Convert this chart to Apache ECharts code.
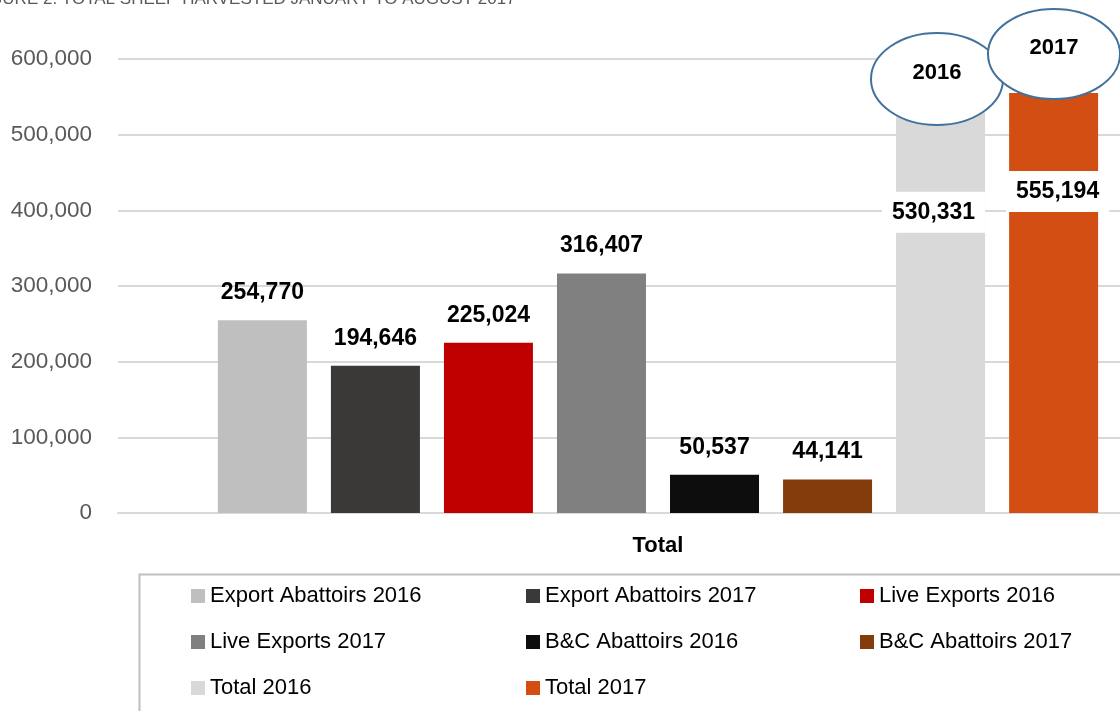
<!DOCTYPE html>
<html>
<head>
<meta charset="utf-8">
<script src="https://cdn.jsdelivr.net/npm/echarts@6/dist/echarts.min.js"></script>
<style>
html,body{margin:0;padding:0;background:#fff;}
#chart{width:1120px;height:711px;}
</style>
</head>
<body>
<div id="chart"></div>
<script>
const categories = ['Total'];
const seriesNames = [
  'Export Abattoirs 2016', 'Export Abattoirs 2017',
  'Live Exports 2016', 'Live Exports 2017',
  'B&C Abattoirs 2016', 'B&C Abattoirs 2017',
  'Total 2016', 'Total 2017'
];
const exportAbattoirs2016 = [254770];
const exportAbattoirs2017 = [194646];
const liveExports2016 = [225024];
const liveExports2017 = [316407];
const bcAbattoirs2016 = [50537];
const bcAbattoirs2017 = [44141];
const total2016 = [530331];
const total2017 = [555194];
const yTicks = [0, 100000, 200000, 300000, 400000, 500000, 600000];
const titleText = 'FIGURE 2: TOTAL SHEEP HARVESTED JANUARY TO AUGUST 2017';
const yearBadges = ['2016', '2017'];

const seriesValues = [exportAbattoirs2016, exportAbattoirs2017, liveExports2016, liveExports2017,
  bcAbattoirs2016, bcAbattoirs2017, total2016, total2017];
const colors = ['#BFBFBF', '#3A3938', '#C00000', '#808080', '#0D0D0D', '#843C0C', '#D9D9D9', '#D24E12'];

const FONT = 'Liberation Sans';
const fmt = v => v.toLocaleString('en-US');

const series = seriesValues.map((vals, i) => {
  const isTotal = i >= 6;
  return {
    name: seriesNames[i],
    type: 'bar',
    data: vals,
    barWidth: 89,
    barGap: '27%',
    itemStyle: { color: colors[i] },
    z: 2,
    label: isTotal ? {
      show: true,
      position: 'insideTop',
      distance: i === 6 ? 80 : 78,
      offset: i === 6 ? [-7, 0] : [4, 0],
      formatter: p => fmt(p.value),
      fontFamily: FONT, fontSize: 23, fontWeight: 'bold', color: '#000',
      backgroundColor: '#fff',
      padding: [9, 10],
      lineHeight: 23
    } : {
      show: true,
      position: 'top',
      distance: 16,
      formatter: p => fmt(p.value),
      fontFamily: FONT, fontSize: 23, fontWeight: 'bold', color: '#000'
    }
  };
});

const legendCommon = {
  orient: 'vertical',
  itemWidth: 14,
  itemHeight: 14,
  itemGap: 24,
  icon: 'rect',
  top: 580,
  textStyle: { fontFamily: FONT, fontSize: 22, color: '#000', lineHeight: 22 },
  selectedMode: false
};

const chart = echarts.init(document.getElementById('chart'));
chart.setOption({
  animation: false,
  title: {
    text: titleText,
    left: -31,
    top: -14,
    textStyle: { fontFamily: FONT, fontSize: 17, fontWeight: 'normal', color: '#595959' }
  },
  grid: { left: 118, top: 59, width: 1080, height: 454, containLabel: false, outerBoundsMode: 'none' },
  xAxis: {
    type: 'category',
    data: categories,
    axisTick: { show: false },
    axisLine: { lineStyle: { color: '#D9D9D9', width: 2 } },
    axisLabel: { fontFamily: FONT, fontSize: 22, fontWeight: 'bold', color: '#000', margin: 22 }
  },
  yAxis: {
    type: 'value',
    min: yTicks[0],
    max: yTicks[yTicks.length - 1],
    interval: yTicks[1] - yTicks[0],
    axisLine: { show: false },
    axisTick: { show: false },
    axisLabel: { fontFamily: FONT, fontSize: 22.5, color: '#595959', margin: 26, formatter: v => fmt(v) },
    splitLine: { lineStyle: { color: '#D9D9D9', width: 2 } }
  },
  legend: [
    Object.assign({}, legendCommon, { left: 186, data: [seriesNames[0], seriesNames[3], seriesNames[6]] }),
    Object.assign({}, legendCommon, { left: 521, data: [seriesNames[1], seriesNames[4], seriesNames[7]] }),
    Object.assign({}, legendCommon, { left: 855, data: [seriesNames[2], seriesNames[5]] })
  ],
  graphic: [
    { type: 'rect', left: 137, top: 572, z: 0, silent: true,
      shape: { width: 1100, height: 200 },
      style: { fill: 'none', stroke: '#BFBFBF', lineWidth: 2 } },
    { type: 'ellipse', z: 100, shape: { cx: 937, cy: 79, rx: 66, ry: 46 },
      style: { fill: '#fff', stroke: '#41719C', lineWidth: 2 } },
    { type: 'text', z: 101, x: 937, y: 73,
      style: { text: yearBadges[0], fontFamily: FONT, fontSize: 22, fontWeight: 'bold', fill: '#000', align: 'center', verticalAlign: 'middle' } },
    { type: 'ellipse', z: 102, shape: { cx: 1054, cy: 54, rx: 66, ry: 45 },
      style: { fill: '#fff', stroke: '#41719C', lineWidth: 2 } },
    { type: 'text', z: 103, x: 1054, y: 48,
      style: { text: yearBadges[1], fontFamily: FONT, fontSize: 22, fontWeight: 'bold', fill: '#000', align: 'center', verticalAlign: 'middle' } }
  ],
  series: series
});
</script>
</body>
</html>
